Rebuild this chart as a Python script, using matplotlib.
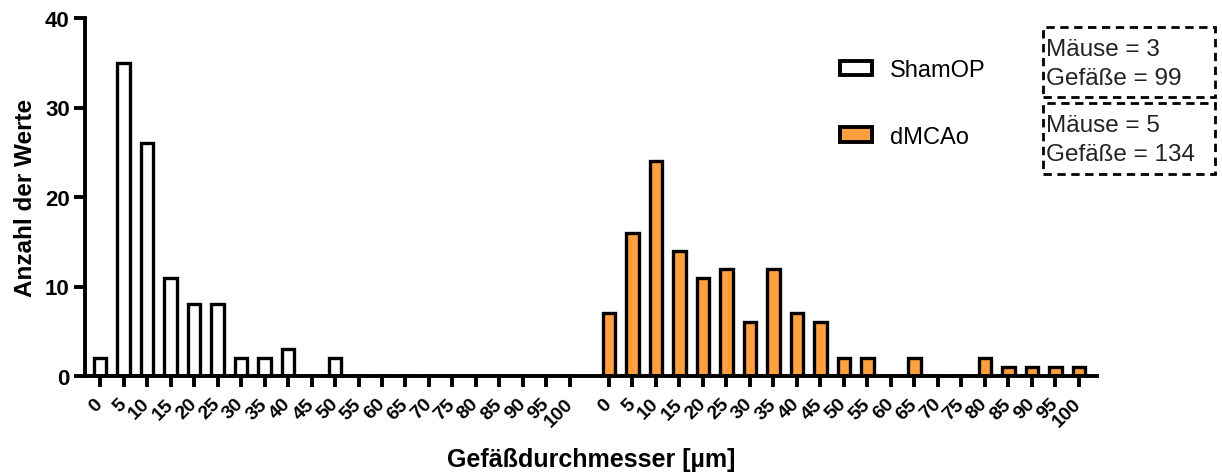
import numpy as np
import matplotlib
matplotlib.use("Agg")
from matplotlib import pyplot as plt
from matplotlib.patches import Rectangle

plt.rcParams["font.family"] = ["Liberation Sans", "DejaVu Sans"]

# Bins (µm) and counts per group.
bins = list(range(0, 105, 5))
sham_counts = [2, 35, 26, 11, 8, 8, 2, 2, 3, 0, 2, 0, 0, 0, 0, 0, 0, 0, 0, 0, 0]
dmcao_counts = [7, 16, 24, 14, 11, 12, 6, 12, 7, 6, 2, 2, 0, 2, 0, 0, 2, 1, 1, 1, 1]
group_names = ["ShamOP", "dMCAo"]
group_info = [["Mäuse = 3", "Gefäße = 99"], ["Mäuse = 5", "Gefäße = 134"]]
y_ticks = [0, 10, 20, 30, 40]

ORANGE = "#FFA040"
GAP = 1.66  # gap between the two groups, in bin units

fig = plt.figure(figsize=(12.22, 4.77), dpi=100)
ax = fig.add_axes([85 / 1222, 1 - 377 / 477, 1012 / 1222, 358 / 477])

n = len(bins)
x_sham = np.arange(n)
x_dmcao = np.arange(n) + (n - 1) + GAP

bar_kw = dict(width=0.54, edgecolor="black", linewidth=2.4, zorder=3)
b1 = ax.bar(x_sham, sham_counts, color="white", label=group_names[0], **bar_kw)
b2 = ax.bar(x_dmcao, dmcao_counts, color=ORANGE, label=group_names[1], **bar_kw)

ax.set_xlim(-0.64, x_dmcao[-1] + 0.77)
ax.set_ylim(0, 40)
ax.set_yticks(y_ticks)
ax.set_xticks(np.concatenate([x_sham, x_dmcao]))
ax.set_xticklabels([str(b) for b in bins] * 2, rotation=45, ha="right",
                   va="center", rotation_mode="anchor", fontsize=14,
                   fontweight="bold")
for lbl in ax.get_yticklabels():
    lbl.set_fontsize(16)
    lbl.set_fontweight("bold")

for side in ("top", "right"):
    ax.spines[side].set_visible(False)
for side in ("left", "bottom"):
    ax.spines[side].set_linewidth(2.8)
    ax.spines[side].set_zorder(4)
ax.tick_params(axis="both", direction="out", length=8, width=2.8, pad=3)
ax.tick_params(axis="x", pad=10)

ax.set_ylabel("Anzahl der Werte", fontsize=17.5, fontweight="bold", labelpad=6)
ax.set_xlabel("Gefäßdurchmesser [µm]", fontsize=18, fontweight="bold", labelpad=12)

leg = ax.legend(handles=[b1, b2], loc="upper left",
                bbox_to_anchor=(840 / 1222, 1 - 60 / 477),
                bbox_transform=fig.transFigure, frameon=False, fontsize=17,
                labelspacing=1.9, handlelength=1.35, handleheight=0.55,
                handletextpad=0.75, borderpad=0, borderaxespad=0)
for patch in leg.get_patches():
    patch.set_linewidth(2.8)

# Dashed info boxes (figure pixels -> fraction)
W, H = 1222, 477
boxes = [(28, 98), (104, 175)]
for (top, bottom), lines in zip(boxes, group_info):
    fig.add_artist(Rectangle((1043 / W, 1 - bottom / H), 172 / W,
                             (bottom - top) / H, transform=fig.transFigure,
                             fill=False, linestyle=(0, (3, 2)), linewidth=2.0,
                             edgecolor="black"))
    for k, line in enumerate(lines):
        y = top + 22 + k * 29
        fig.text(1046 / W, 1 - y / H, line, fontsize=17.5, va="center",
                 ha="left", color="#222222")

fig.savefig("out.png", dpi=100)
